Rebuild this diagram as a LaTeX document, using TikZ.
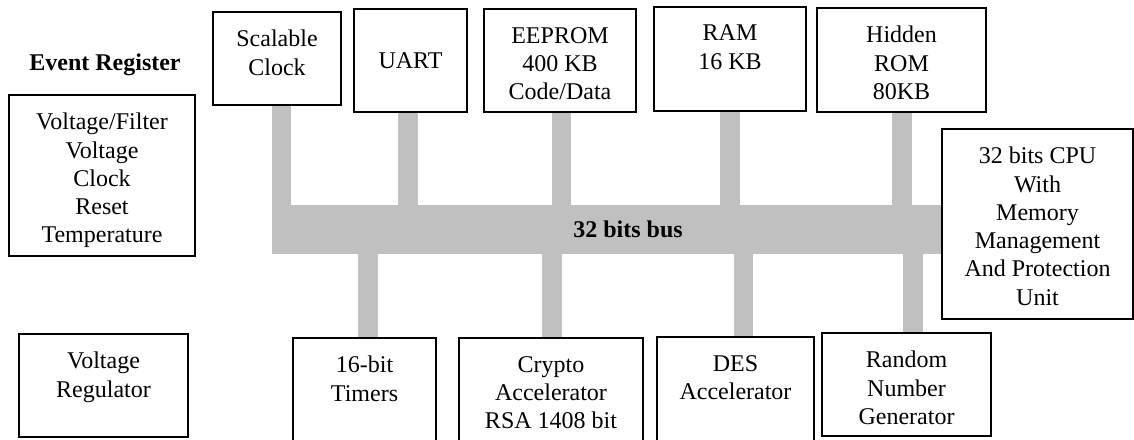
\documentclass[tikz,border=0pt]{standalone}
\usepackage{fontspec}
\setmainfont{Liberation Serif}

\definecolor{busgray}{RGB}{192,192,192}
\pgfdeclarelayer{bg}
\pgfsetlayers{bg,main}

\begin{document}
\begin{tikzpicture}[x=0.75pt, y=-0.75pt, font=\fontsize{18}{21.2}\selectfont]
        % Styles for the blocks, their texts and the bus lines
        \tikzset{
            blk/.style={draw, line width=1.2pt, fill=white, inner sep=0pt},
            txt/.style={anchor=north, align=center, inner sep=0pt, yshift=-14pt},
            boldtxt/.style={font=\fontsize{18}{21.2}\selectfont\bfseries},
            busline/.style={draw=busgray, line width=14.6pt}
        }
        \useasboundingbox (0,0) rectangle (1134,439);
        \clip (0,0) rectangle (1134,439);

        % Left column
        \node[boldtxt] (evreg) at (105,65) {Event Register};
        \node[blk, minimum width=139.5pt, minimum height=120.75pt,
              label={[txt]north:{Voltage/Filter\\Voltage\\Clock\\Reset\\Temperature}}] (vfilt) at (102,175.5) {};
        \node[blk, minimum width=126.75pt, minimum height=77.25pt,
              label={[txt]north:{Voltage\\Regulator}}] (vreg) at (103.5,385.5) {};

        % The bus
        \node[fill=busgray, inner sep=0pt, minimum width=534pt, minimum height=36.75pt, boldtxt] (bus) at (628,229.5) {32 bits bus};

        % Top row
        \node[blk, minimum width=96pt, minimum height=69.75pt,
              label={[txt]north:{Scalable\\Clock}}] (sclk) at (277,58.5) {};
        \node[blk, minimum width=84.75pt, minimum height=77.25pt] (uart) at (410.5,60.5) {UART};
        \node[blk, minimum width=114pt, minimum height=77.25pt,
              label={[txt]north:{EEPROM\\400 KB\\Code/Data}}] (eeprom) at (560,60.5) {};
        \node[blk, minimum width=114pt, minimum height=78pt,
              label={[txt]north:{RAM\\16 KB}}] (ram) at (730,59) {};
        \node[blk, minimum width=126.75pt, minimum height=78pt,
              label={[txt]north:{Hidden\\ROM\\80KB}}] (hrom) at (901.5,60) {};

        % CPU on the right
        \node[blk, minimum width=143.25pt, minimum height=142.5pt,
              label={[txt]north:{32 bits CPU\\With\\Memory\\Management\\And Protection\\Unit}}] (cpu) at (1037.5,224) {};

        % Bottom row
        \node[blk, minimum width=107.25pt, minimum height=91.5pt,
              label={[txt]north:{16-bit\\Timers}}] (timers) at (364.5,399) {};
        \node[blk, minimum width=138pt, minimum height=91.5pt,
              label={[txt]north:{Crypto\\Accelerator\\RSA 1408 bit}}] (crypto) at (551,399) {};
        \node[blk, minimum width=117.75pt, minimum height=92.25pt,
              label={[txt]north:{DES\\Accelerator}}] (des) at (735.5,398.5) {};
        \node[blk, minimum width=126.75pt, minimum height=77.25pt,
              label={[txt]north:{Random\\Number\\Generator}}] (rng) at (906.5,384.5) {};

        % Bus lines to the blocks
        \begin{pgfonlayer}{bg}
            \foreach \n/\x in {sclk/281.5, uart/408, eeprom/561.5, ram/730, hrom/902}
                \draw[busline] (\n.south -| \x,0) -- (bus.north -| \x,0);
            \foreach \n/\x in {timers/368, crypto/552, des/743.5, rng/913}
                \draw[busline] (\n.north -| \x,0) -- (bus.south -| \x,0);
        \end{pgfonlayer}

    \end{tikzpicture}
\end{document}
